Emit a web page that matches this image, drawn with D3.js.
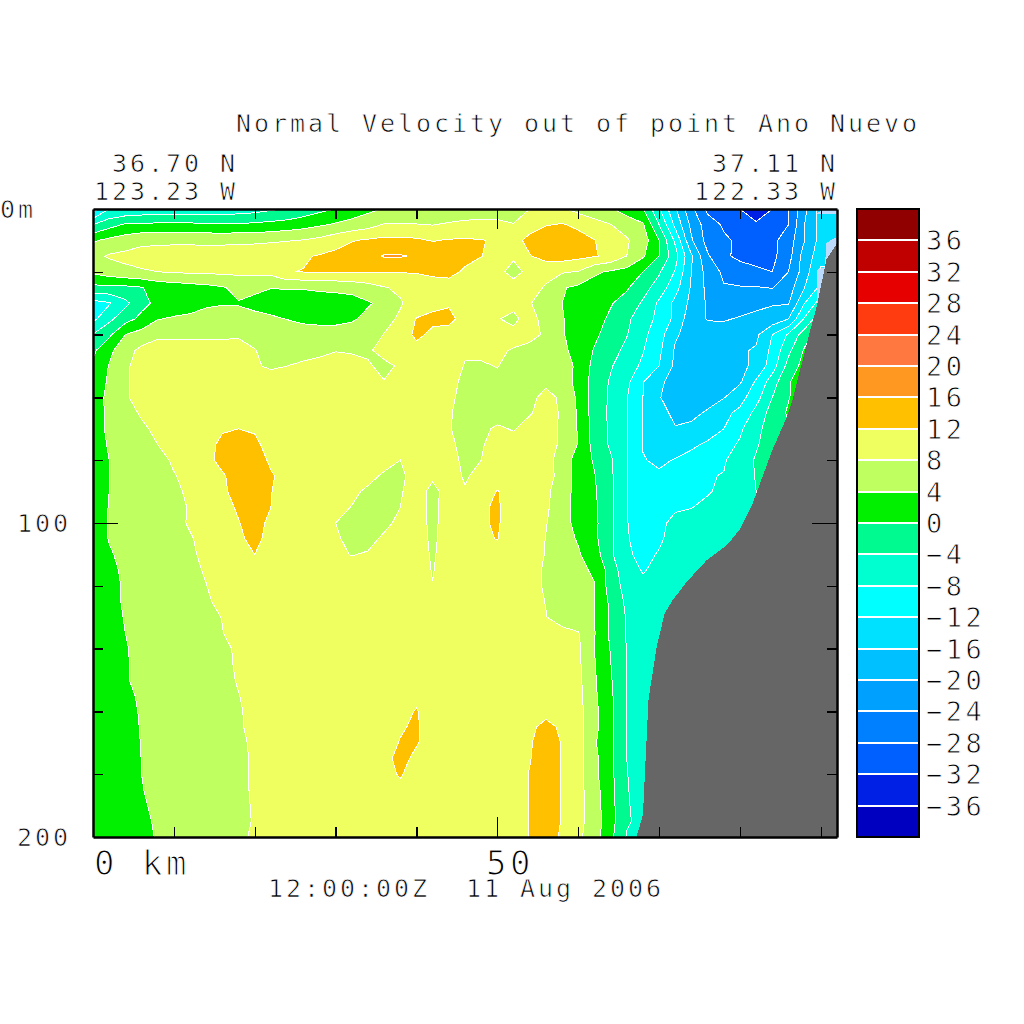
<!DOCTYPE html>
<html><head><meta charset="utf-8">
<script src="https://cdn.jsdelivr.net/npm/d3@7/dist/d3.min.js"></script>
<style>html,body{margin:0;padding:0;background:#fff}svg{display:block}
text{font-family:"DejaVu Sans Mono",monospace;fill:#000;stroke:#fff;white-space:pre}</style>
</head><body><svg id="c" width="1024" height="1024"></svg>
<script>
// Velocity (cm/s): 47 columns every 2 km, 41 rows every 5 m.
const velocityRows = [
[-14,-8,-7.5,-7,-6.5,-6.5,-6.5,-6.5,-6.5,-6, -5.5,-4.5,-4,-2.5,-1,0,1.5,3,4.2,4.6, 4,4.6,5,5.5,6,6.5,7,8,8.5,8.5, 6.8,5.5,4.5,2,0.3,-7.5,-15.5,-23,-29,-31, -32,-34,-32,-28,-21,-14,-14],
[-4,-1.5,0.5,0.8,0.8,0.8,0.8,0.7,0.5,0.5, 0.8,1.2,1.8,2.5,3.5,4.5,5.5,6.5,8.3,8.3, 8.2,7.9,8.5,9,9,8.7,8.1,10.5,11.8,12.3, 11.2,9.5,8.1,6.5,4.5,-4,-13,-21,-26,-28.5, -30.5,-31.5,-30.5,-28,-20,-14.5,-14.5],
[3.5,5,6,7,7.2,7.2,7.2,7,7,7.2, 7.2,7.5,7.8,8.2,9,10.5,11.8,12.5,13,13, 12.6,11.8,12.3,12.4,12.2,11.5,10.8,13,14,14.3, 13.5,12.1,10.5,8.4,6,0,-8.7,-19.5,-25.5,-27.4, -28.7,-29.5,-29,-26,-20,-14.5,-14],
[7,8.4,9,9.5,9.7,10,10,10.2,10.3,10.5, 10.7,11,11.2,11.6,12.3,13,13.5,14.5,16.3,16.3, 15.6,14.5,13.8,13,12.1,10.6,8.5,11.8,13.5,13.8, 13,12.3,11,8,4.5,0,-6.5,-15.5,-23.5,-27.2, -29,-29.5,-29,-25.5,-18,-14,-14],
[4.8,6,7,7.6,8,8.3,8.6,8.7,8.8,8.9, 9,9.2,11.9,12.1,12.2,12.2,12.2,12.2,12.2,12.2, 12.3,12.7,13,11.5,10,9,6.8,9,9,8.4, 7.8,4.6,3.5,2.6,0,-3.5,-8.3,-16,-21.5,-24.8, -26,-27.2,-28,-24,-18,-11,-11],
[-1,-0.8,-0.8,-0.2,1.5,2,2.5,3,3.7,5, 4.8,4.1,4.3,4.3,4.7,5,5.5,6.5,7.8,8.6, 9.5,10.5,10.5,10.2,10,9.8,9.5,9.2,7.7,4.3, 3.3,2.5,1.5,0.5,-2.5,-5.7,-10.5,-16.5,-21,-23.7, -23.8,-23.8,-24.2,-22,-16,-11,-11],
[-9.5,-8.4,-5,-1.2,1,1.5,2,3.5,3.8,3.8, 3,2.5,2,2,2,2,2.2,3.6,5,7.7, 9.5,10.8,11.6,10.5,10,9.5,8.9,8.2,6.5,4, 2,1.5,0.3,-1.6,-4.5,-8.7,-13,-17,-20.5,-21.5, -21.5,-21,-20.3,-20.3,-12,-6,-6],
[-9,-5,-1.5,1,3.8,4.5,5,5.2,5.3,5, 5,4.5,3.9,3.3,3,3,3.5,5,7,8.5, 12.2,13,13,10.7,10,8.2,7.2,9.5,6.5,4.3, 2,1.3,-0.6,-3.2,-6.2,-9,-13,-18.5,-20.2,-20.3, -19.7,-19,-18.5,-16,-7.5,-1,0],
[-3.8,-0.8,4,5.5,7.5,7.5,7.5,7.6,7.7,7.8, 7.2,6.5,6,5.5,5.5,5.5,6,6.5,8.1,9.5, 13,11,10.5,10,9.5,9,9,9,7.5,4.3, 2.5,0.8,-1.7,-3.8,-7,-10.3,-15.5,-17.5,-18.5,-18.5, -18,-16.8,-12,-7.5,-2,2,2],
[-0.8,3,6.5,9,9.2,9.1,9,8.8,8.7,8.6, 8.1,7,6.5,6.7,7.3,7.9,7.8,7.6,9,10, 10.5,10.5,10.2,8.4,8.6,8.4,7.8,7,6.2,4.6, 3,-0.3,-2.4,-5,-7.8,-11.2,-16.5,-17.5,-17.5,-17, -16.5,-15.6,-11,-5,0.5,2,2],
[0.7,4.2,7.4,9.5,9.7,9.7,9.6,9.5,9.4,9.2, 8.4,7.5,8,8.6,8.9,8.9,8.7,8.3,7.3,8.4, 9.7,10,9.6,7.8,7.7,8.1,7,6.7,6.5,5.3, 3.4,-1.3,-3.6,-6.5,-8.6,-12,-16.8,-17,-17,-17, -17,-15,-10,-2.5,1.5,2,2],
[1.2,4.6,7.3,9.8,10,10,10,10,10,9.9, 9.7,9.6,9.6,9.6,9.6,9.6,9.4,8.5,8.1,9, 9.6,9.7,9,7.3,7.5,7.4,7,7.2,7.5,5.7, 3,-1.7,-4.4,-7,-11.8,-15.4,-17.2,-17.3,-17.3,-17, -16.5,-11.5,-6,-0.3,2,2,2],
[2,5,7.5,9.6,10.3,10.5,10.5,10.7,10.8,10.8, 10.8,10.8,10.8,10.7,10.6,10.5,10.3,10.2,10.2,10.2, 10.2,10,8.6,7.1,7,6.9,7,7.4,8.7,7.6, 3.2,-1.6,-4.6,-7.8,-12,-15.8,-17.6,-17.7,-17.5,-16.2, -13.5,-9.5,-4,-0.2,2,2,2],
[2.2,4.8,6.3,8.5,10.3,10.7,10.9,11,11,11, 11,11,11,11,11,11,10.9,10.8,10.8,10.7, 10.6,10,8.3,6.9,6.8,6.9,7,7.8,9,7.7, 3.5,-1.8,-4.7,-7.8,-12.2,-14.8,-16.8,-16.9,-15.5,-13, -11,-6.8,-2.3,0.5,2,2,2],
[2.3,4.7,6,7.2,9,10.2,10.8,11.2,11.7,12, 11.8,11.3,11.2,11.2,11.2,11.1,11,11,10.9,10.8, 10.6,10,8.2,7,7.4,8.4,7.8,9,9.3,7.5, 3.7,-1.6,-4.6,-7.9,-12.2,-14,-15.8,-15.2,-14.2,-12, -8.7,-5,-2.3,-0.5,-1,-1,-1],
[2.4,4.3,5.5,6.5,8,9.5,10.3,11,12.7,13.4, 12.4,11.3,11.2,11.2,11.2,11.1,11,11,10.5,10.5, 10.5,10,8.5,7.3,7.8,8.8,9,9.5,9.2,7.5, 3.8,-1.4,-4.5,-7.9,-12.2,-13.5,-13.6,-12.8,-11.3,-9.5, -7.5,-4.3,-2.5,-1,-1,-1,-1],
[2.5,4,5.2,6,6.8,8.5,9.7,11,13,14, 13.5,11.5,11.2,11.2,11.2,11,10.8,10.3,9.3,8, 10,10,9,7.4,8,9.3,9.8,10,9.6,6, 2.4,-0.4,-3.5,-7.7,-11.8,-12.6,-11.8,-10.5,-9,-8.5, -5.5,-3.7,-2,-1,-1,-1,-1],
[2.6,4,5,5.6,6.3,7.8,9,10.7,11.6,13.5, 13.6,12.3,11,11,10.8,10.5,9.8,9,7.5,7.2, 9.6,8.6,9.2,7.7,8.8,10,10.2,10.2,9.8,6.3, 2.2,0.2,-3.3,-7.8,-11.5,-11.5,-10,-9.3,-8.3,-7.8, -5,-3.9,-2,-1,-1,-1,-1],
[2.6,4,5,5.4,6,7.2,8.7,10.5,11.6,12.8, 13.5,12.1,10.7,10.6,10.2,9.5,8.7,7.4,6.8,7.7, 9.5,7,9.4,8.2,10,12.2,10.6,10.6,8.8,6, 2.4,0.5,-3.2,-7.8,-10.5,-10.2,-9.3,-8.8,-8.3,-7.2, -5.2,-4,-2,-1,-1,-1,-1],
[2.7,4.1,5,5.2,5.8,6.8,8.3,10.3,11.2,12.3, 13.3,12,10.5,10.4,9.7,8.9,7.9,6.8,6.5,8, 9.8,7,9.8,10,11.6,12.4,10.2,10.4,8.6,5.8, 2.5,0.7,-3.1,-7.9,-9.8,-9.6,-8.4,-8.1,-7.2,-6.2, -5,-4,-2,-1,-1,-1,-1],
[2.8,4.1,4.9,5,5.6,6.3,8.6,10,11,11.9, 13,11.4,10.3,10.1,9.4,8,7.1,6.6,7.4,8.6, 9.8,7,10,10.2,11.6,12.4,10,10.4,8.2,5.6, 2.7,0.9,-3.1,-7.9,-9.2,-8.7,-7.2,-6.5,-5.8,-5.2, -4.7,-4,-4,-4,-4,-4,-4],
[2.9,4.1,4.7,4.9,5.5,6.1,7.5,9.8,10.8,11.5, 12.8,11,10.3,9.9,9.1,8.3,7.4,7.3,8.4,9.4, 9.9,7.2,10,10.2,11.5,12.1,10.4,10.1,7.9,5.3, 3.7,0.9,-3.2,-7.8,-9,-8.4,-7,-6,-5.5,-5, -4.7,-4,-4,-4,-4,-4,-4],
[3,3.8,4.5,4.8,5.4,6,7,9.4,10.6,11, 12,10.7,10.2,9.8,9,8.5,7.9,8.2,9,9.5, 9.9,7.5,10,10.2,10.5,10.9,10.2,9.8,7.8,5.3, 4.4,1.9,-3.3,-7.6,-8.7,-7.8,-6.5,-5.5,-5,-5, -5,-5,-5,-5,-5,-5,-5],
[3.1,3.6,4.3,4.7,5.3,5.9,6.7,8.5,10.3,10.7, 10.9,10.5,10.1,9.8,9.2,9,9,9.2,9.4,9.6, 9.7,7.8,10,10.1,10.2,10.3,10,9.6,7.4,5.5, 4.5,3.7,-1.8,-6.7,-8.2,-7.3,-6,-5.5,-5,-5, -5,-5,-5,-5,-5,-5,-5],
[3.2,3.5,4.2,4.6,5.2,5.8,6.5,7.9,9.8,10.4, 10.7,10.4,10.1,9.8,9.6,9.6,9.6,9.7,9.8,9.8, 9.7,8.1,10,10,10,10,9.8,9.4,7.5,5.5, 4.8,4.1,-1.7,-5.5,-7.4,-7,-6,-5.5,-5,-5, -5,-5,-5,-5,-5,-5,-5],
[3.2,3.5,4.2,4.5,5.2,5.7,6.3,7.3,9.4,10.2, 10.5,10.4,10.2,10,9.9,9.9,9.9,9.9,9.9,9.9, 9.8,9.4,10,10,10,10,9.8,9.2,7.9,6, 5,4.1,-0.8,-4.8,-7,-6.7,-6,-5.5,-5,-5, -5,-5,-5,-5,-5,-5,-5],
[3.2,3.4,4.1,4.5,5.1,5.6,6.2,7,8.1,9.9, 10.3,10.3,10.2,10.2,10.1,10.1,10.1,10.1,10.1,10.1, 10,10,10,10,10,10,9.8,9.1,8.1,6.8, 5.5,4.1,-0.5,-4.3,-6.7,-6.5,-6,-5.5,-5,-5, -5,-5,-5,-5,-5,-5,-5],
[3.2,3.3,4,4.4,5,5.5,6,6.7,7.9,9.4, 10,10.2,10.2,10.2,10.2,10.2,10.2,10.2,10.2,10.2, 10.2,10.1,10.1,10.1,10.1,10.1,10,9.8,9.3,8.8, 8.2,4.2,-0.7,-4.3,-6.3,-6.2,-6,-5.5,-5,-5, -5,-5,-5,-5,-5,-5,-5],
[3.1,3.3,3.9,4.4,4.9,5.4,5.9,6.5,7.2,8.6, 9.7,10.1,10.2,10.3,10.3,10.3,10.3,10.3,10.3,10.3, 10.3,10.3,10.3,10.3,10.3,10.3,10.3,10.4,10,9.5, 8.7,4.1,-0.2,-4.1,-6,-6,-6,-5.5,-5,-5, -5,-5,-5,-5,-5,-5,-5],
[3.1,3.3,3.9,4.3,4.8,5.3,5.8,6.3,6.9,8.6, 9.5,10,10.2,10.3,10.3,10.3,10.3,10.3,10.4,10.4, 10.5,10.5,10.5,10.5,10.5,10.5,10.5,10.6,10.4,9.9, 8.8,4.2,0.1,-4,-5.8,-6,-6,-5.5,-5,-5, -5,-5,-5,-5,-5,-5,-5],
[3,3.2,3.9,4.3,4.8,5.2,5.6,6.2,6.9,8.3, 9.4,10,10.3,10.4,10.4,10.4,10.4,10.5,10.5,10.7, 10.8,10.7,10.6,10.6,10.6,10.6,10.8,11,11,10.3, 9,4.5,0.4,-4,-5.8,-6,-6,-5.5,-5,-5, -5,-5,-5,-5,-5,-5,-5],
[3,3.2,3.7,4.2,4.7,5.1,5.5,6,6.8,7.9, 9.2,10,10.4,10.5,10.5,10.6,10.6,10.6,10.7,11.2, 11.6,11,10.8,10.7,10.7,10.8,11,11.4,11.2,10.7, 9.2,4.7,0.7,-4,-5.7,-6,-6,-5.5,-5,-5, -5,-5,-5,-5,-5,-5,-5],
[3,3.2,3.5,4.15,4.7,5,5.4,5.9,6.7,7.5, 9.4,10,10.4,10.6,10.6,10.7,10.8,10.9,11,11.5, 12.1,11.2,10.9,10.9,10.9,11,11.3,11.7,11.3,11, 9.4,5,1,-4,-5.7,-6,-6,-5.5,-5,-5, -5,-5,-5,-5,-5,-5,-5],
[3,3.1,3.4,4.1,4.8,5.1,5.4,5.9,6.7,7.3, 9.5,10.2,10.5,10.7,10.7,10.8,10.9,11,11.1,11.8, 12.3,10.8,10.9,10.9,10.9,11.1,11.4,11.5,12.7,11.6, 9.6,5,1,-4,-5.6,-6,-6,-5.5,-5,-5, -5,-5,-5,-5,-5,-5,-5],
[2.9,3,3.4,4.05,4.7,5,5.4,5.9,6.6,7.3, 8.6,10.3,10.6,10.8,10.8,10.9,11,11.1,11.3,12.1, 12.2,10.9,10.9,10.9,11,11.2,11.6,11.8,13,11.9, 9.6,4.5,0.8,-4,-5.5,-6,-6,-5.5,-5,-5, -5,-5,-5,-5,-5,-5,-5],
[2.8,3,3.3,4.02,4.8,5.1,5.4,5.8,6.5,7.2, 8.5,10.3,10.7,10.9,10.9,11,11.1,11.2,11.2,12.8, 11.4,10.8,10.8,10.9,11,11.3,11.2,11.9,13,11.9, 9.5,5,1,-4,-5.5,-6,-6,-5.5,-5,-5, -5,-5,-5,-5,-5,-5,-5],
[2.7,2.9,3.2,4,4.8,5,5.4,5.8,6.5,7.2, 8.5,10.3,10.7,11,11,11,11.1,11.3,11.3,12.2, 11,10.8,10.8,10.9,11,11.3,11,12.1,13,11.9, 9.5,5,1,-3.9,-5.4,-6,-6,-5.5,-5,-5, -5,-5,-5,-5,-5,-5,-5],
[2.6,2.8,3.1,3.9,4.6,5,5.3,5.7,6.4,7.1, 8.5,10.3,10.8,11,11,11,11.1,11.2,11.4,11.5, 10.9,10.8,10.8,10.9,11,11.3,11,12.1,13,11.9, 9.4,5.5,1.2,-3.8,-5.3,-6,-6,-5.5,-5,-5, -5,-5,-5,-5,-5,-5,-5],
[2.5,2.7,3,3.7,4.5,5,5.3,5.7,6.4,7, 8.4,10.2,10.7,10.9,11,11,11,11.1,11.2,11.2, 11,10.8,10.8,10.9,11,11.3,11,12.1,13,11.9, 9.3,5.7,1.4,-3.7,-5.2,-6,-6,-5.5,-5,-5, -5,-5,-5,-5,-5,-5,-5],
[2.4,2.6,2.9,3.5,4.3,4.9,5.3,5.7,6.3,6.9, 8.3,10.2,10.6,10.8,10.9,11,11,11,11,11, 11,10.8,10.8,10.9,11,11.3,11,12.1,13,11.9, 9.2,6,1.5,-3.6,-5,-6,-6,-5.5,-5,-5, -5,-5,-5,-5,-5,-5,-5],
[2.3,2.6,2.9,3.3,4.2,4.9,5.5,6,6.5,7.2, 8.6,10,10.5,10.7,10.8,10.9,11,11,11,11, 11,10.8,10.8,10.9,11,11.2,11,12.1,13,11.7, 8.8,5.8,1,-4.3,-5,-6,-6,-5.5,-5,-5, -5,-5,-5,-5,-5,-5,-5]
];
const gridStepKm = 2, gridStepDepth = 5;

const levels = d3.range(-40, 40, 4);
const bandColors = ["#0000c0","#0020e6","#0060ff","#0080ff","#00a0ff","#00c0ff","#00e0ff","#00ffff","#00ffd0","#00fa90",
                    "#00f000","#c0ff60","#f0ff60","#ffc000","#ff9820","#ff7840","#ff3c10","#e60000","#c00000","#900000"];
const legendLabels = d3.range(-36, 40, 4);

const bottomKm    = [67.2,68,68.7,69.7,70.7,71.7,73.4,75.9,78.4,80,81.6,84,85.8,86.5,88.6,89.5,90.7,92];
const bottomDepth = [200,193,156,139.5,128.7,124.5,118.8,111.8,107,102,93.6,76.8,66.2,60.8,39.5,31,16,11];
const maskTop  = [[89.5,1.6],[90.2,0],[92,0],[92,1.6]];
const maskEdge = [[90.7,10.8],[91.7,9.2],[92,9.2],[92,11],[89.5,31],[89.5,19.4],[90.5,18.5]];

const kmTicks = d3.range(10, 100, 10), depthTicks = d3.range(20, 200, 20);
const majorKm = 50, majorDepth = 100;

const plot = {l:93, r:837, t:209, b:837};
const xS = d3.scaleLinear([0, 92], [plot.l, plot.r]);
const yS = d3.scaleLinear([0, 200], [plot.t, plot.b]);
const svg = d3.select("#c");

const n = velocityRows[0].length, m = velocityRows.length;
velocityRows.forEach((r,i)=>{ if(r.length!==n) throw new Error("row "+i+" has "+r.length); });
const contours = d3.contours().size([n, m]).thresholds(levels)(velocityRows.flat());
const proj = d3.geoTransform({point(gx, gy){
  this.stream.point(xS((gx-0.5)*gridStepKm), yS((gy-0.5)*gridStepDepth));
}});
const path = d3.geoPath(proj);

svg.append("clipPath").attr("id","pc").append("rect")
  .attr("x",plot.l).attr("y",plot.t).attr("width",plot.r-plot.l).attr("height",plot.b-plot.t);
const g = svg.append("g").attr("clip-path","url(#pc)").attr("shape-rendering","crispEdges");
g.selectAll("path.f").data(contours).join("path").attr("class","f")
  .attr("d",path).attr("fill",(d,i)=>bandColors[i]);
g.selectAll("path.s").data(contours.slice(1)).join("path").attr("class","s")
  .attr("d",path).attr("fill","none").attr("stroke","#fff").attr("stroke-width",1);

const poly = d3.line().x(d=>xS(d[0])).y(d=>yS(d[1]));
g.selectAll("path.m").data([maskTop, maskEdge]).join("path").attr("class","m")
  .attr("d",d=>poly(d)+"Z").attr("fill","#bcdcff");
const bottom = d3.zip(bottomKm, bottomDepth);
g.append("path").datum(bottom)
  .attr("d", d3.area().x(d=>xS(d[0])).y0(d=>yS(d[1])).y1(yS(200)))
  .attr("fill","#666666");

// axes: inward ticks on all four sides
function ax(gen, tx, ty, major){
  const a = svg.append("g").attr("transform",`translate(${tx},${ty})`).call(gen);
  a.selectAll("text").remove();
  a.select(".domain").attr("stroke","#000").attr("stroke-width",2.5);
  a.selectAll(".tick line").attr("stroke","#000").attr("stroke-width",1.3)
    .attr("shape-rendering","crispEdges");
  a.selectAll(".tick").filter(d=>d===major[0]).select("line").each(function(){
    const s = d3.select(this);
    ["x2","y2"].forEach(k=>{ const v=+s.attr(k); if(v) s.attr(k, Math.sign(v)*major[1]); });
  });
}
const fmt = ()=>"";
ax(d3.axisBottom(xS).tickValues(kmTicks).tickSize(10).tickSizeOuter(0).tickFormat(fmt), 0, plot.t, [majorKm,20]);
ax(d3.axisTop(xS).tickValues(kmTicks).tickSize(10).tickSizeOuter(0).tickFormat(fmt), 0, plot.b, [majorKm,20]);
ax(d3.axisRight(yS).tickValues(depthTicks).tickSize(10).tickSizeOuter(0).tickFormat(fmt), plot.l, 0, [majorDepth,25]);
ax(d3.axisLeft(yS).tickValues(depthTicks).tickSize(10).tickSizeOuter(0).tickFormat(fmt), plot.r, 0, [majorDepth,25]);

// legend
const lx = 857, lw = 62;
const lY = d3.scaleLinear([40,-40],[plot.t, plot.b]);
const leg = svg.append("g").attr("shape-rendering","crispEdges");
leg.selectAll("rect").data(levels).join("rect")
  .attr("x",lx).attr("width",lw).attr("y",d=>lY(d+4)).attr("height",d=>lY(d)-lY(d+4))
  .attr("fill",(d,i)=>bandColors[i]);
leg.selectAll("line").data(legendLabels).join("line")
  .attr("x1",lx).attr("x2",lx+lw).attr("y1",d=>lY(d)).attr("y2",d=>lY(d))
  .attr("stroke","#fff").attr("stroke-width",2);
leg.append("rect").attr("x",lx).attr("y",plot.t).attr("width",lw).attr("height",plot.b-plot.t)
  .attr("fill","none").attr("stroke","#000").attr("stroke-width",2.5);

// text
function T(s,x,y,size,adv,thin){
  return svg.append("text").attr("x",x).attr("y",y).attr("font-size",size)
    .attr("letter-spacing",adv - size*0.602).attr("stroke-width",thin).text(s);
}
T("Normal Velocity out of point Ano Nuevo",236,132,25,18,.75);
T("36.70 N",112,172,25,18,.75);
T("123.23 W",94,200,25,18,.75);
T("37.11 N",712,172,25,18,.75);
T("122.33 W",694,200,25,18,.75);
T("0m",0,218,25,18,.75);
T("100",17,532,25,18,.75);
T("200",17,846,25,18,.75);
T("0 km",94,875,34,24,1.2);
T("50",486,875,34,24,1.2);
T("12:00:00Z  11 Aug 2006",268,897,25,18,.75);
legendLabels.forEach(v=>{
  T((v<0?"\u2212":"")+Math.abs(v), 926, lY(v)+10, 27, 19.8, .85);
});
</script></body></html>
